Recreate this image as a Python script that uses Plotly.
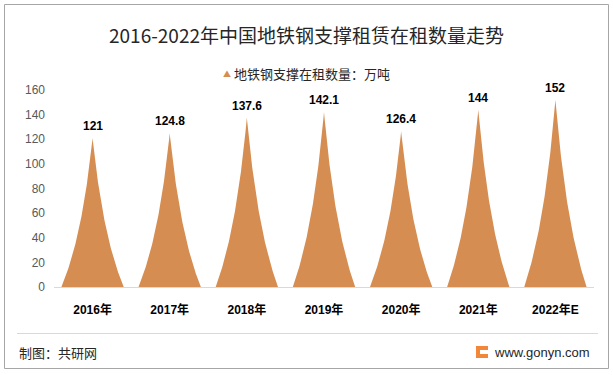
import numpy as np
import plotly.graph_objects as go

categories = ["2016年", "2017年", "2018年", "2019年", "2020年", "2021年", "2022年E"]
values = [121, 124.8, 137.6, 142.1, 126.4, 144, 152]
value_labels = ["121", "124.8", "137.6", "142.1", "126.4", "144", "152"]
y_ticks = [0, 20, 40, 60, 80, 100, 120, 140, 160]
series_name = "地铁钢支撑在租数量：万吨"
title_text = "2016-2022年中国地铁钢支撑租赁在租数量走势"

W, H = 613, 375
L, R, T, B = 54, 594, 90, 287
PW, PH = R - L, B - T
FILL = "#D58D51"
NUMFONT = "Liberation Sans, Arial, Noto Sans CJK SC, sans-serif"
CJK = "Noto Sans CJK SC, Liberation Sans, sans-serif"


def fx(px):
    return (px - L) / PW


def fy(py):
    return (B - py) / PH


fig = go.Figure()

HALF = 0.404
t = np.linspace(0, 1, 80)
prof = (1 - t) / (1 + t)
for i, v in enumerate(values):
    xs = np.concatenate([i - HALF * prof, (i + HALF * prof)[::-1]])
    ys = np.concatenate([t * v, (t * v)[::-1]])
    fig.add_trace(go.Scatter(x=xs, y=ys, mode="lines", fill="toself",
                             fillcolor=FILL, line=dict(width=0, color=FILL),
                             hoverinfo="skip", showlegend=False))

annotations = []
for i, (v, lab) in enumerate(zip(values, value_labels)):
    annotations.append(dict(x=i, y=v, xref="x", yref="y", text=lab, showarrow=False,
                            xanchor="center", yanchor="bottom", yshift=3,
                            font=dict(family=NUMFONT, size=12, color="#000000", weight="bold")))

fig.update_xaxes(range=[-0.5, len(categories) - 0.5], tickvals=list(range(len(categories))),
                 ticktext=categories, showgrid=False, zeroline=False, showline=True,
                 linecolor="#D9D9D9", linewidth=1, ticks="", ticklabelstandoff=12,
                 tickfont=dict(family=NUMFONT, size=12, color="#000000", weight="bold"))
fig.update_yaxes(range=[0, 160], tickvals=y_ticks, showgrid=False, zeroline=False,
                 showline=False, ticks="", ticklabelstandoff=8,
                 tickfont=dict(family=NUMFONT, size=12, color="#595959"))

annotations += [
    dict(x=fx(227), y=fy(73), xref="paper", yref="paper", text="▲", showarrow=False,
         font=dict(size=8, color=FILL, family=CJK), xanchor="center", yanchor="middle"),
    dict(x=fx(232), y=fy(73), xref="paper", yref="paper", text=series_name, showarrow=False,
         font=dict(size=13, color="#262626", family=CJK), xanchor="left", yanchor="middle"),
    dict(x=fx(17), y=fy(352), xref="paper", yref="paper", text="制图：共研网", showarrow=False,
         font=dict(size=13, color="#262626", family=CJK), xanchor="left", yanchor="middle"),
    dict(x=fx(492), y=fy(352), xref="paper", yref="paper", text="www.gonyn.com", showarrow=False,
         font=dict(size=13, color="#262626", family=NUMFONT), xanchor="left", yanchor="middle"),
]

shapes = [
    dict(type="rect", xref="paper", yref="paper", x0=fx(4.5), x1=fx(608.5), y0=fy(4.5), y1=fy(368.5),
         line=dict(color="#A6A6A6", width=1), fillcolor="rgba(0,0,0,0)", layer="below"),
    dict(type="line", xref="paper", yref="paper", x0=fx(17), x1=fx(598), y0=fy(333.5), y1=fy(333.5),
         line=dict(color="#D9D9D9", width=1)),
    dict(type="rect", xref="paper", yref="paper", x0=fx(476), x1=fx(488), y0=fy(346), y1=fy(358),
         line=dict(width=0), fillcolor="#F2873A"),
    dict(type="rect", xref="paper", yref="paper", x0=fx(480), x1=fx(488), y0=fy(350), y1=fy(354),
         line=dict(width=0), fillcolor="#FFFFFF"),
]

fig.update_layout(
    width=W, height=H,
    margin=dict(l=L, r=W - R, t=T, b=H - B),
    paper_bgcolor="#FFFFFF", plot_bgcolor="#FFFFFF",
    title=dict(text=title_text, x=0.5, xref="container", xanchor="center",
               y=1 - 36 / H, yref="container", yanchor="middle",
               font=dict(family=CJK, size=19, color="#262626")),
    showlegend=False,
    annotations=annotations,
    shapes=shapes,
)

fig.write_html("out.html", config={"displayModeBar": False},
               post_script="document.body.style.margin='0';document.body.style.overflow='hidden';")
